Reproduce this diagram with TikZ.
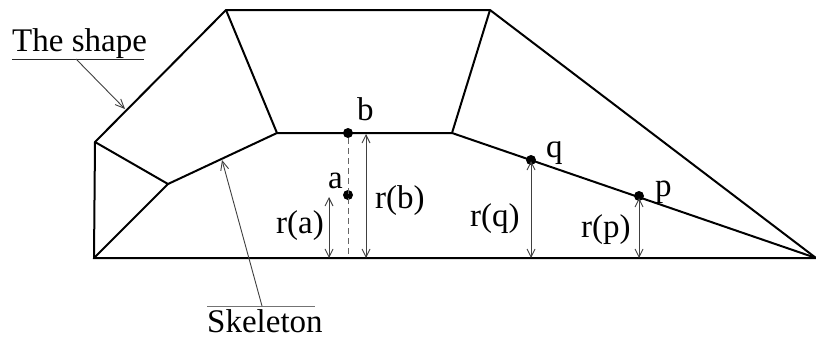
\documentclass[tikz,border=0pt]{standalone}
\usepackage{fontspec}
\setmainfont{Liberation Serif}
\usetikzlibrary{arrows.meta}
\begin{document}
\begin{tikzpicture}[x=1pt,y=-1pt,
  edge/.style={line width=2pt,line join=miter},
  meas/.style={line width=0.9pt,draw=black!75,{Straight Barb[length=8pt,width=8pt]}-{Straight Barb[length=8pt,width=8pt]}},
  pointer/.style={line width=0.9pt,draw=black!75,-{Straight Barb[length=9pt,width=8pt]}},
  dot/.style={circle,fill=black,inner sep=0pt,minimum size=10pt},
  lbl/.style={font=\fontsize{33}{38}\selectfont,inner sep=0pt,anchor=base west}]
\useasboundingbox (0,0) rectangle (816,340);
% shape vertices
\coordinate (BL) at (94,258);
\coordinate (L) at (95,142);
\coordinate (TL) at (226,10);
\coordinate (TR) at (490,10);
\coordinate (BR) at (816,258);
% skeleton vertices
\coordinate (S1) at (168,184);
\coordinate (S2) at (277,133);
\coordinate (S3) at (452,133);
% shape
\draw[edge] (BL) -- (L) -- (TL) -- (TR) -- (BR) -- cycle;
% skeleton
\draw[edge] (BL) -- (S1) -- (L);
\draw[edge] (S1) -- (S2) -- (S3) -- (BR);
\draw[edge] (TL) -- (S2);
\draw[edge] (TR) -- (S3);
% points
\node[dot] (b) at (348,133) {};
\node[dot] (a) at (348,195) {};
\node[dot] (q) at (531,160) {};
\node[dot] (p) at (639,196) {};
\coordinate (bfoot) at (348,258);
\draw[line width=1pt,draw=black!60,dash pattern=on 6pt off 4pt] (b) -- (bfoot);
% measure arrows
\coordinate (ra0) at (329,258); \coordinate (ra1) at (329,197);
\coordinate (rb0) at (366,258); \coordinate (rb1) at (366,134);
\coordinate (rq0) at (531,258); \coordinate (rq1) at (531,161);
\coordinate (rp0) at (639,258); \coordinate (rp1) at (639,198);
\draw[meas] (ra1) -- (ra0);
\draw[meas] (rb1) -- (rb0);
\draw[meas] (rq1) -- (rq0);
\draw[meas] (rp1) -- (rp0);
% point labels
\node[lbl] (lb) at (357,120) {b};
\node[lbl] (la) at (328,188) {a};
\node[lbl] (lq) at (546,157) {q};
\node[lbl] (lp) at (655,196) {p};
\node[lbl] (lra) at (276,233) {r(a)};
\node[lbl] (lrb) at (375,208) {r(b)};
\node[lbl] (lrq) at (470,226) {r(q)};
\node[lbl] (lrp) at (581,237) {r(p)};
% callouts
\node[lbl] (shape) at (12,51) {The shape};
\coordinate (su0) at (12,59); \coordinate (su1) at (144,59);
\draw[line width=1pt,draw=black!85] (su0) -- (su1);
\coordinate (sp) at (76,59); \coordinate (spt) at (125,109);
\draw[pointer] (sp) -- (spt);
\node[lbl] (skel) at (207,332) {Skeleton};
\coordinate (sk0) at (207,306); \coordinate (sk1) at (315,306);
\draw[line width=1pt,draw=black!55] (sk0) -- (sk1);
\coordinate (kp) at (262,306); \coordinate (kpt) at (222,160);
\draw[pointer] (kp) -- (kpt);
\end{tikzpicture}
\end{document}
